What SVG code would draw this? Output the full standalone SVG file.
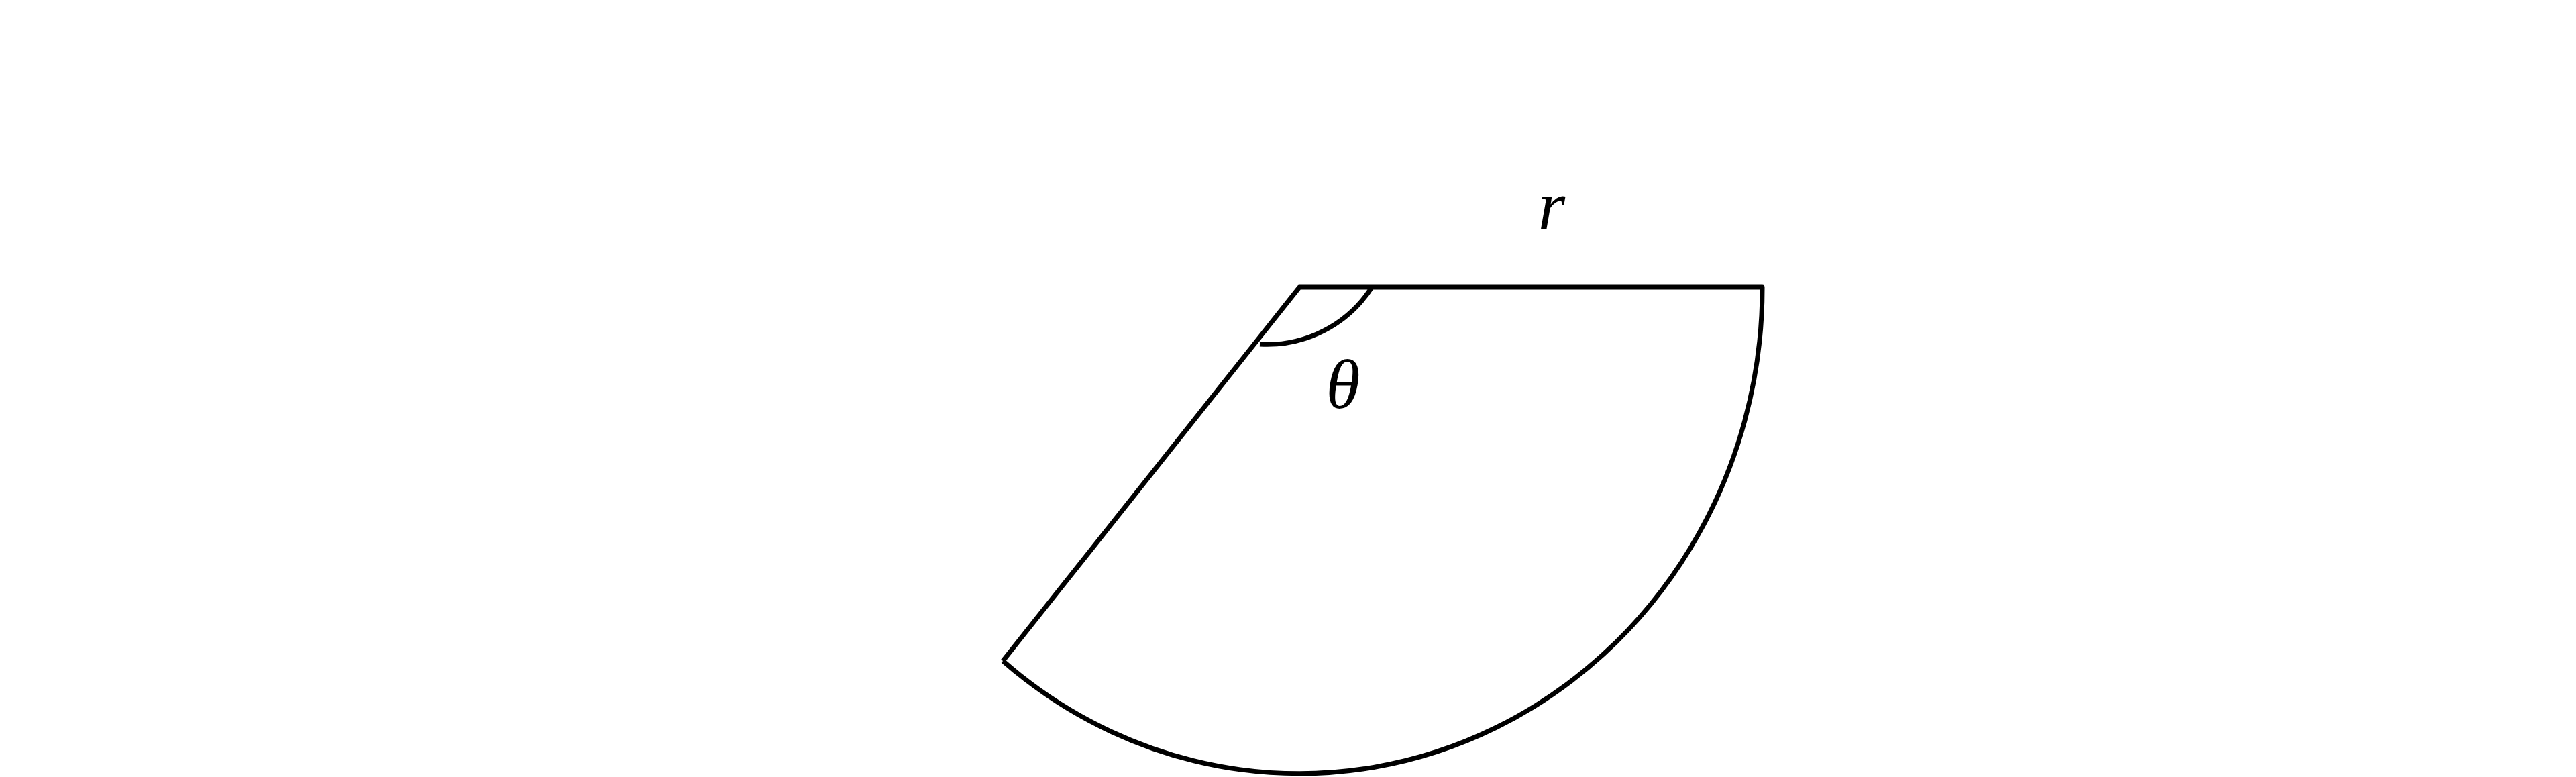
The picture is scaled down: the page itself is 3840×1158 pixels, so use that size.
<svg xmlns="http://www.w3.org/2000/svg" width="3840" height="1158" viewBox="0 0 3840 1158">
<style>
.ln{fill:none;stroke:#000;stroke-width:7;stroke-linejoin:round}
.lb{font-family:"Liberation Serif","DejaVu Serif",serif;font-style:italic;font-size:104px;fill:#000;text-anchor:middle}
</style>
<rect width="3840" height="1158" fill="#fff"/>
<g id="connectors">
<path class="ln" d="M1495,985 L1937,428 L2627,428 A690,723 0 0 1 1495,985"/>
<path class="ln" d="M2045,428 A186,186 0 0 1 1878,513"/>
</g>
<g id="label-r"><text class="lb" x="2313" y="342">r</text></g>
<g id="label-theta"><text class="lb" x="2002" y="608">θ</text></g>
</svg>
